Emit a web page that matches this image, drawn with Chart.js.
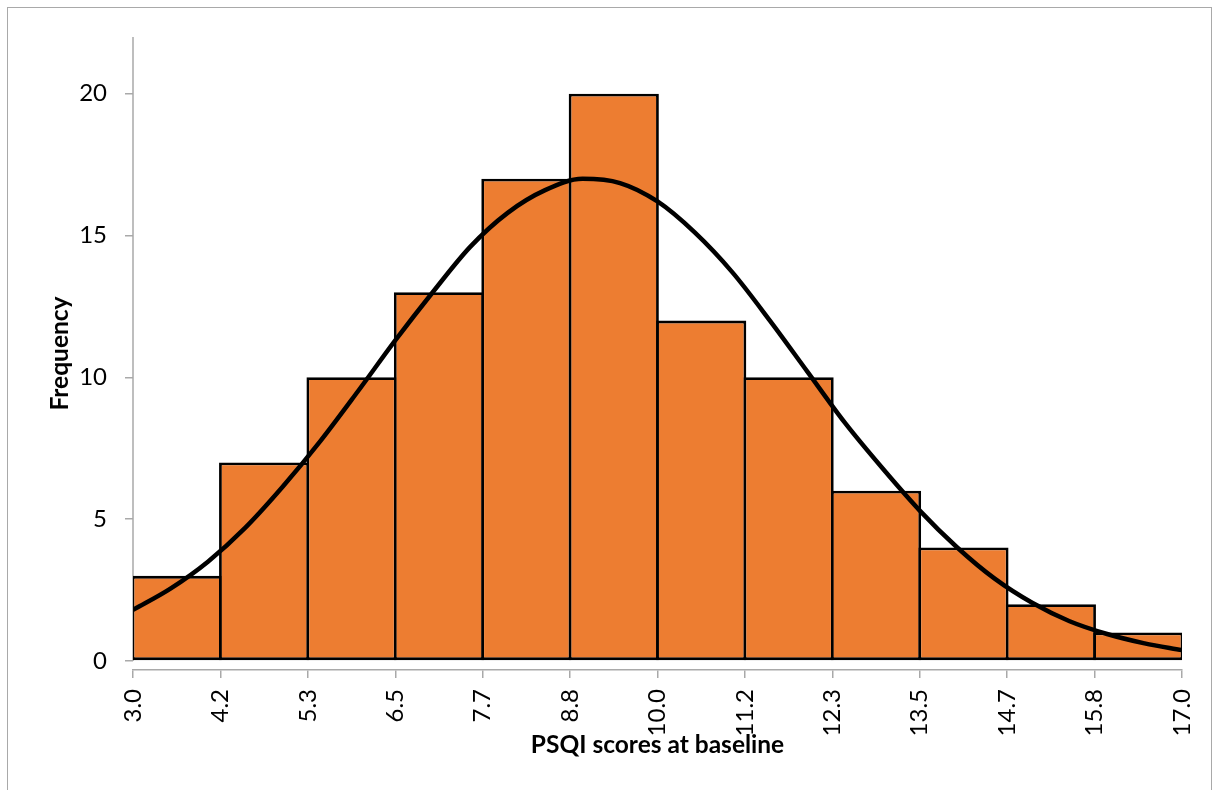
<!DOCTYPE html>
<html>
<head>
<meta charset="utf-8">
<script src="https://cdn.jsdelivr.net/npm/chart.js@4.4.1/dist/chart.umd.min.js"></script>
<style>
  html, body { margin: 0; padding: 0; background: #fff; }
  #wrap { position: relative; width: 1219px; height: 790px; overflow: hidden; }
  #wrap canvas { position: absolute; left: 0; top: 0; }
  #frame { position: absolute; left: 7px; top: 7px; width: 1205px; height: 900px;
           border: 1.5px solid #a9a9a9; box-sizing: border-box; pointer-events: none; }
</style>
</head>
<body>
<div id="wrap">
  <canvas id="chart" width="1219" height="790"></canvas>
  <div id="frame"></div>
</div>
<script>
// Histogram bins (edges) and their printed labels
const binEdges = [3.0, 4.167, 5.333, 6.5, 7.667, 8.833, 10.0, 11.167, 12.333, 13.5, 14.667, 15.833, 17.0];
const edgeLabels = ['3.0', '4.2', '5.3', '6.5', '7.7', '8.8', '10.0', '11.2', '12.3', '13.5', '14.7', '15.8', '17.0'];
const frequencies = [3, 7, 10, 13, 17, 20, 12, 10, 6, 4, 2, 1];

// Fitted normal curve, sampled along the score axis
const curveX = [3.0, 3.5, 4.0, 4.5, 5.0, 5.5, 6.0, 6.5, 7.0, 7.5, 8.0, 8.5, 9.0, 9.5, 10.0,
                10.5, 11.0, 11.5, 12.0, 12.5, 13.0, 13.5, 14.0, 14.5, 15.0, 15.5, 16.0, 16.5, 17.0];
const curveY = [1.8, 2.55, 3.5, 4.7, 6.15, 7.75, 9.5, 11.3, 13.0, 14.6, 15.8, 16.6, 17.0, 16.85, 16.2,
                15.1, 13.7, 12.0, 10.2, 8.4, 6.8, 5.3, 4.0, 2.9, 2.05, 1.4, 0.95, 0.62, 0.38];

const yTicks = [0, 5, 10, 15, 20];

const AXIS_GREY = '#a9a9a9';
const FONT = 'Lato';
const TICK_SIZE = 24;
const TITLE_SIZE = 24.5;

// Vertical axis line: runs from the top of the plot down to the zero line only
const yAxisLine = {
  id: 'yAxisLine',
  beforeDatasetsDraw(chart) {
    const { ctx, chartArea, scales } = chart;
    const x = chartArea.left;
    ctx.save();
    ctx.strokeStyle = AXIS_GREY;
    ctx.lineWidth = 1.5;
    ctx.beginPath();
    ctx.moveTo(x, chartArea.top);
    ctx.lineTo(x, scales.y.getPixelForValue(0));
    ctx.stroke();
    ctx.restore();
  }
};

function draw() {
  const barData = frequencies.map((f, i) => ({ x: (binEdges[i] + binEdges[i + 1]) / 2, y: f }));
  const curveData = curveX.map((x, i) => ({ x: x, y: curveY[i] }));

  new Chart(document.getElementById('chart'), {
    data: {
      datasets: [
        {
          type: 'line',
          data: curveData,
          borderColor: '#000000',
          borderWidth: 4.5,
          pointRadius: 0,
          fill: false,
          cubicInterpolationMode: 'monotone',
          order: 0
        },
        {
          type: 'bar',
          data: barData,
          backgroundColor: '#ED7D31',
          borderColor: '#000000',
          borderWidth: 2.8,
          borderSkipped: false,
          barPercentage: 1.032,
          categoryPercentage: 1,
          grouped: false,
          order: 1
        }
      ]
    },
    options: {
      responsive: false,
      animation: false,
      devicePixelRatio: 1,
      layout: { padding: { top: 37, right: 37, left: 0, bottom: 0 } },
      plugins: { legend: { display: false }, tooltip: { enabled: false } },
      scales: {
        x: {
          type: 'linear',
          min: 3,
          max: 17,
          offset: false,
          afterBuildTicks(scale) { scale.ticks = binEdges.map(v => ({ value: v })); },
          afterFit(scale) {
            scale.height = 120;
            scale.paddingLeft = 0;
            scale.paddingRight = 0;
          },
          ticks: {
            autoSkip: false,
            minRotation: 90,
            maxRotation: 90,
            padding: 11,
            color: '#000',
            font: { family: FONT, size: TICK_SIZE },
            callback(value, index) { return edgeLabels[index]; }
          },
          grid: { display: true, offset: false, drawOnChartArea: false, drawTicks: true, tickLength: 8, color: AXIS_GREY, lineWidth: 1.5 },
          border: { display: true, color: AXIS_GREY, width: 1.5 },
          title: {
            display: true,
            text: 'PSQI scores at baseline',
            color: '#000',
            font: { family: FONT, size: TITLE_SIZE, weight: 'bold' },
            padding: { top: 0, bottom: 30 }
          }
        },
        y: {
          type: 'linear',
          min: -0.32,
          max: 22,
          afterBuildTicks(scale) { scale.ticks = yTicks.map(v => ({ value: v })); },
          afterFit(scale) {
            scale.width = 133;
            scale.paddingTop = 0;
            scale.paddingBottom = 0;
          },
          ticks: {
            padding: 18,
            color: '#000',
            font: { family: FONT, size: TICK_SIZE }
          },
          grid: { display: true, drawOnChartArea: false, drawTicks: true, tickLength: 8, color: AXIS_GREY, lineWidth: 1.5 },
          border: { display: false },
          title: {
            display: true,
            text: 'Frequency',
            color: '#000',
            font: { family: FONT, size: TITLE_SIZE, weight: 'bold' },
            padding: { top: 45, bottom: 0 }
          }
        }
      }
    },
    plugins: [yAxisLine]
  });
}

Promise.all([
  document.fonts.load(TICK_SIZE + 'px Lato'),
  document.fonts.load('bold ' + TITLE_SIZE + 'px Lato')
]).then(draw, draw);
</script>
</body>
</html>
